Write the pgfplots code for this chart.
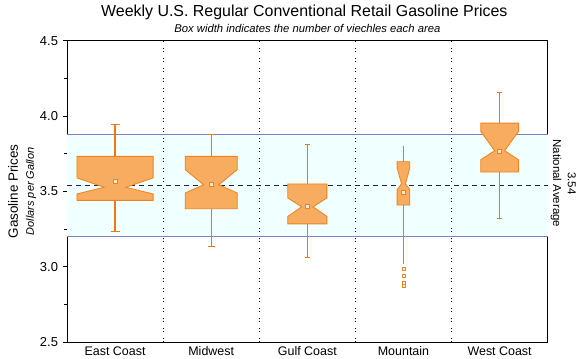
\documentclass[border=0pt]{standalone}
\usepackage{pgfplots}
\pgfplotsset{compat=1.18}
\usepackage{fontspec}
\setmainfont{Liberation Sans}
\definecolor{boxfill}{RGB}{247,172,96}
\definecolor{boxedge}{RGB}{240,130,30}
\definecolor{whisk}{RGB}{236,120,20}
\definecolor{meanfill}{RGB}{255,236,210}
\definecolor{bandfill}{RGB}{240,255,255}
\definecolor{bandline}{RGB}{128,128,192}
\definecolor{avgline}{RGB}{26,38,80}
\begin{document}
\begin{tikzpicture}
\begin{axis}[
  name=ax, scale only axis, width=480.7bp, height=301.3bp,
  xmin=0.5, xmax=5.5, ymin=2.5, ymax=4.5,
  clip=false,
  axis line style={black, line width=0.8bp},
  xtick={1,2,3,4,5},
  xticklabels={East Coast,Midwest,Gulf Coast,Mountain,West Coast},
  major x tick style={draw=none},
  xticklabel style={yshift=3bp, font=\fontsize{12.5}{14}\selectfont},
  ytick={2.5,3,3.5,4,4.5},
  minor y tick num=1,
  ytick pos=left, xtick pos=bottom,
  tick align=outside,
  major tick length=4bp, minor tick length=3bp,
  tick style={black, line width=0.6bp},
  /pgf/number format/assume math mode=true,
  yticklabel style={/pgf/number format/fixed, /pgf/number format/fixed zerofill, /pgf/number format/precision=1, font=\fontsize{13}{15}\selectfont, xshift=-1.5bp},
]
% band
\addplot[draw=none, fill=bandfill] coordinates {(0.5,3.20) (5.5,3.20) (5.5,3.88) (0.5,3.88)} -- cycle;
\addplot[bandline, line width=0.8bp] coordinates {(0.5,3.88) (5.5,3.88)};
\addplot[bandline, line width=0.8bp] coordinates {(0.5,3.20) (5.5,3.20)};
% separators
\addplot[black, line width=0.8bp, dash pattern=on 1bp off 2bp on 1bp off 6bp] coordinates {(1.5,2.5) (1.5,4.5)};
\addplot[black, line width=0.8bp, dash pattern=on 1bp off 2bp on 1bp off 6bp] coordinates {(2.5,2.5) (2.5,4.5)};
\addplot[black, line width=0.8bp, dash pattern=on 1bp off 2bp on 1bp off 6bp] coordinates {(3.5,2.5) (3.5,4.5)};
\addplot[black, line width=0.8bp, dash pattern=on 1bp off 2bp on 1bp off 6bp] coordinates {(4.5,2.5) (4.5,4.5)};
% national average
\addplot[avgline, line width=0.9bp, dash pattern=on 5bp off 4bp] coordinates {(0.5,3.54) (5.5,3.54)};
% whiskers
\addplot[draw=whisk, line width=1.4bp] coordinates {(1,3.231) (1,3.946)};
\addplot[draw=whisk, line width=1.1bp] coordinates {(0.953,3.946) (1.047,3.946)};
\addplot[draw=whisk, line width=1.1bp] coordinates {(0.953,3.231) (1.047,3.231)};
\addplot[draw=whisk, line width=1.4bp] coordinates {(2,3.134) (2,3.878)};
\addplot[draw=whisk, line width=1.1bp] coordinates {(1.964,3.878) (2.036,3.878)};
\addplot[draw=whisk, line width=1.1bp] coordinates {(1.964,3.134) (2.036,3.134)};
\addplot[draw=whisk, line width=1.4bp] coordinates {(3,3.059) (3,3.810)};
\addplot[draw=whisk, line width=1.1bp] coordinates {(2.975,3.810) (3.025,3.810)};
\addplot[draw=whisk, line width=1.1bp] coordinates {(2.975,3.059) (3.025,3.059)};
\addplot[draw=whisk, line width=1.4bp] coordinates {(4,3.015) (4,3.800)};
\addplot[draw=whisk, line width=1.1bp] coordinates {(3.992,3.800) (4.008,3.800)};
\addplot[draw=whisk, line width=1.4bp] coordinates {(5,3.319) (5,4.158)};
\addplot[draw=whisk, line width=1.1bp] coordinates {(4.976,4.158) (5.024,4.158)};
\addplot[draw=whisk, line width=1.1bp] coordinates {(4.976,3.319) (5.024,3.319)};
% notched boxes
\addplot[draw=boxedge, fill=boxfill, line width=0.8bp] coordinates {(0.604,3.440) (0.604,3.483) (0.887,3.527) (0.604,3.589) (0.604,3.732) (1.396,3.732) (1.396,3.589) (1.113,3.527) (1.396,3.483) (1.396,3.440)} -- cycle;
\addplot[draw=boxedge, fill=boxfill, line width=0.8bp] coordinates {(1.729,3.385) (1.729,3.489) (1.920,3.544) (1.729,3.644) (1.729,3.732) (2.271,3.732) (2.271,3.644) (2.080,3.544) (2.271,3.489) (2.271,3.385)} -- cycle;
\addplot[draw=boxedge, fill=boxfill, line width=0.8bp] coordinates {(2.797,3.284) (2.797,3.334) (2.940,3.397) (2.797,3.456) (2.797,3.549) (3.203,3.549) (3.203,3.456) (3.060,3.397) (3.203,3.334) (3.203,3.284)} -- cycle;
\addplot[draw=boxedge, fill=boxfill, line width=0.8bp] coordinates {(3.934,3.409) (3.934,3.512) (3.980,3.550) (3.934,3.655) (3.934,3.697) (4.066,3.697) (4.066,3.655) (4.020,3.550) (4.066,3.512) (4.066,3.409)} -- cycle;
\addplot[draw=boxedge, fill=boxfill, line width=0.8bp] coordinates {(4.804,3.628) (4.804,3.710) (4.948,3.770) (4.804,3.897) (4.804,3.953) (5.196,3.953) (5.196,3.897) (5.052,3.770) (5.196,3.710) (5.196,3.628)} -- cycle;
% means
\addplot[only marks, mark=square*, mark size=2bp, mark options={draw=boxedge, fill=meanfill, line width=0.7bp}] coordinates {(1,3.566) (2,3.544) (3,3.400) (4,3.493) (5,3.765)};
% outliers
\addplot[only marks, mark=square*, mark size=1.6bp, mark options={draw=boxedge, fill=white, line width=0.7bp}] coordinates {(4,2.988) (4,2.937) (4,2.889) (4,2.871)};
% right labels
\node[rotate=-90, font=\fontsize{11.5}{13}\selectfont] at ([xshift=8.5bp,yshift=2bp]axis cs:5.5,3.54) {National Average};
\node[rotate=-90, font=\fontsize{11.5}{13}\selectfont] at ([xshift=24bp,yshift=2bp]axis cs:5.5,3.54) {3.54};
\end{axis}
\node[rotate=90, font=\fontsize{13.5}{15}\selectfont] at ([xshift=-54bp]ax.west) {Gasoline Prices};
\node[rotate=90, font=\itshape\fontsize{11}{13}\selectfont] at ([xshift=-36bp]ax.west) {Dollars per Gallon};
\node[font=\fontsize{16}{19}\selectfont] at ([xshift=-3bp,yshift=28.7bp]ax.north) {Weekly U.S. Regular Conventional Retail Gasoline Prices};
\node[font=\itshape\fontsize{11.3}{13}\selectfont] at ([yshift=12.5bp]ax.north) {Box width indicates the number of viechles each area};
\pgfresetboundingbox
\path[use as bounding box] ([xshift=-67bp,yshift=-17bp]ax.south west) rectangle ++(579bp,359bp);
\end{tikzpicture}
\end{document}
